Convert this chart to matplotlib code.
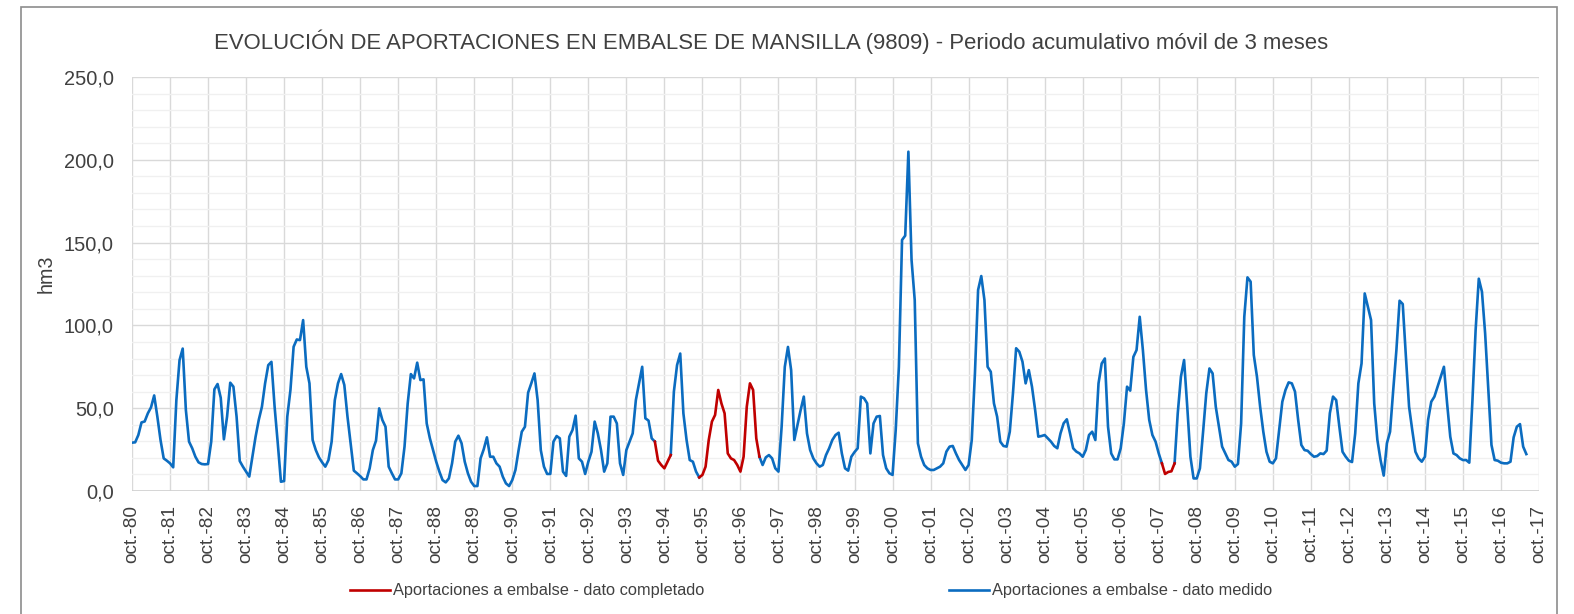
import matplotlib
matplotlib.use("Agg")
import matplotlib.pyplot as plt
import numpy as np
from matplotlib.patches import Rectangle

plt.rcParams['font.family'] = ['Liberation Sans', 'DejaVu Sans']

TITLE = "EVOLUCIÓN DE APORTACIONES EN EMBALSE DE MANSILLA (9809) - Periodo acumulativo móvil de 3 meses"
YLABEL = "hm3"
LABEL_COMPLETADO = "Aportaciones a embalse - dato completado"
LABEL_MEDIDO = "Aportaciones a embalse - dato medido"

# tick labels: one per hydrological year start (October)
years = list(range(1980, 2018))
tick_labels = ["oct.-%02d" % (y % 100) for y in years]

# monthly 3-month moving cumulative inflow (hm3), starting oct-1980
values = [
    29.2, 29.4, 33.8, 41.4, 42.0, 46.9, 50.5, 57.7, 44.9, 30.8, 19.7, 18.3,
    16.7, 14.3, 54.9, 79.0, 86.0, 48.9, 29.8, 25.8, 20.7, 17.3, 16.3, 16.1,
    16.3, 29.8, 61.4, 64.6, 56.3, 31.2, 44.9, 65.4, 63.0, 44.9, 18.1, 14.7,
    11.7, 8.7, 20.7, 32.8, 42.9, 50.9, 65.0, 76.0, 78.0, 50.9, 28.8, 5.6,
    6.0, 44.9, 61.0, 87.1, 91.5, 91.1, 103.2, 75.0, 65.0, 30.8, 24.7, 20.3,
    17.3, 14.7, 18.7, 29.8, 54.9, 65.0, 70.6, 64.0, 44.9, 28.8, 12.3, 10.7,
    9.0, 7.0, 7.0, 13.7, 24.7, 30.4, 49.9, 42.9, 38.8, 14.7, 10.7, 7.0,
    7.0, 10.7, 26.8, 52.9, 70.6, 68.0, 77.5, 67.0, 67.4, 40.8, 31.8, 24.7,
    17.7, 11.7, 6.6, 5.2, 7.6, 16.7, 29.8, 33.4, 28.8, 17.7, 10.7, 5.6,
    3.0, 3.0, 19.7, 25.2, 32.4, 20.7, 20.7, 16.7, 14.7, 8.7, 4.6, 3.0,
    6.6, 12.7, 24.7, 35.8, 38.8, 59.4, 65.0, 71.0, 54.9, 24.7, 14.7, 10.3,
    10.3, 29.8, 33.2, 31.8, 11.7, 9.1, 32.8, 36.8, 45.5, 19.7, 17.7, 10.3,
    17.7, 23.7, 41.9, 34.8, 24.7, 11.7, 16.7, 44.9, 44.9, 40.8, 16.7, 9.7,
    24.7, 29.8, 34.8, 54.9, 65.0, 75.0, 43.9, 42.5, 31.8, 29.8, 18.3, 15.7,
    13.7, 17.7, 21.7, 60.0, 76.0, 83.0, 46.9, 30.8, 18.7, 17.7, 11.7, 8.2,
    9.7, 14.7, 30.8, 41.9, 45.9, 61.0, 52.9, 46.9, 22.7, 19.7, 18.7, 15.7,
    11.7, 20.7, 50.9, 65.0, 61.0, 31.8, 20.7, 15.7, 20.3, 21.7, 19.7, 13.7,
    11.7, 38.8, 75.0, 87.0, 73.0, 30.8, 39.8, 48.9, 57.0, 34.8, 24.7, 19.7,
    16.7, 14.7, 15.7, 21.7, 25.8, 30.8, 33.8, 35.2, 22.7, 13.7, 12.3, 20.7,
    23.5, 25.8, 57.0, 56.0, 52.9, 22.7, 40.8, 44.9, 45.3, 21.7, 13.7, 10.7,
    9.7, 36.8, 75.0, 151.6, 154.2, 204.9, 139.5, 115.3, 28.8, 20.7, 15.7, 13.7,
    12.7, 12.7, 13.7, 14.7, 16.7, 23.8, 26.8, 27.2, 22.7, 18.7, 15.7, 12.7,
    15.7, 30.8, 71.0, 121.4, 129.8, 115.3, 75.0, 72.0, 52.9, 44.9, 29.8, 27.2,
    26.8, 35.8, 59.0, 86.2, 84.1, 78.1, 65.0, 73.0, 63.0, 48.9, 32.8, 33.2,
    33.8, 31.8, 29.8, 27.2, 25.8, 34.8, 40.9, 43.3, 34.8, 25.8, 23.8, 22.7,
    20.7, 24.8, 33.8, 35.8, 30.8, 65.0, 77.0, 80.0, 38.8, 22.7, 19.1, 19.1,
    25.8, 40.8, 63.0, 60.6, 81.0, 85.1, 105.2, 85.1, 61.0, 42.9, 33.8, 29.8,
    22.7, 16.7, 10.3, 11.5, 11.9, 16.7, 46.9, 69.0, 79.1, 50.9, 20.7, 7.6,
    7.6, 13.7, 35.8, 59.0, 74.0, 71.0, 50.9, 38.8, 26.8, 22.7, 18.7, 17.7,
    14.7, 16.3, 40.8, 105.2, 129.0, 126.4, 82.1, 69.0, 50.9, 35.8, 23.7, 17.7,
    16.7, 19.7, 36.8, 53.9, 61.0, 65.6, 65.0, 60.0, 42.9, 27.8, 24.7, 24.3,
    22.3, 20.7, 21.1, 22.7, 22.3, 24.4, 47.0, 57.0, 54.9, 38.8, 23.7, 20.7,
    18.3, 17.5, 34.8, 65.0, 77.0, 119.3, 111.3, 103.2, 52.9, 30.8, 18.7, 9.3,
    28.8, 35.8, 61.0, 85.1, 114.9, 112.9, 81.1, 50.9, 36.8, 23.7, 19.7, 17.7,
    20.7, 42.9, 53.9, 57.0, 63.0, 69.0, 75.0, 52.9, 32.8, 22.7, 21.7, 19.7,
    18.7, 18.7, 17.1, 54.9, 97.2, 128.2, 120.3, 95.2, 61.0, 27.8, 18.7, 18.3,
    17.1, 16.7, 16.7, 17.7, 32.4, 38.8, 40.4, 26.8, 22.3,
]

# month-index ranges (inclusive) whose data were completed (not measured)
completado_ranges = [(165, 170), (179, 198), (325, 329)]

vals = np.array(values, dtype=float)
months = np.arange(len(vals))

medido = vals.copy()
completado = np.full_like(vals, np.nan)
for a, b in completado_ranges:
    completado[a:b + 1] = vals[a:b + 1]
    medido[a + 1:b] = np.nan

BLUE = "#0B6CC0"
RED = "#C00000"
TXT = "#404040"

W, H = 1574, 614
fig = plt.figure(figsize=(W / 100, H / 100), dpi=100)
fig.patch.set_facecolor("white")

ax = fig.add_axes([132 / W, 1 - 491 / H, (1539 - 132) / W, (491 - 77) / H])

ax.plot(months, medido, color=BLUE, lw=1.9, zorder=3, solid_joinstyle="round",
        label=LABEL_MEDIDO)
ax.plot(months, completado, color=RED, lw=1.9, zorder=4, solid_joinstyle="round",
        label=LABEL_COMPLETADO)

n_years = len(years) - 1
ax.set_xlim(0, n_years * 12)
ax.set_ylim(0, 250)
ax.set_xticks(np.arange(0, n_years * 12 + 1, 12))
ax.set_xticklabels(tick_labels, rotation=90, fontsize=13.7, color=TXT)
ax.set_yticks(np.arange(0, 251, 50))
ax.set_yticks(np.arange(0, 251, 10), minor=True)
ax.set_yticklabels([("%.1f" % v).replace(".", ",") for v in np.arange(0, 251, 50)],
                   fontsize=14.4, color=TXT)
ax.tick_params(axis="both", which="both", length=0)
ax.tick_params(axis="y", pad=13)
ax.tick_params(axis="x", pad=10)

ax.grid(True, axis="x", which="major", color="#d9d9d9", lw=1.0, zorder=1)
ax.grid(True, axis="y", which="major", color="#d9d9d9", lw=1.0, zorder=1)
ax.grid(True, axis="y", which="minor", color="#f0f0f0", lw=1.0, zorder=0)
for s in ax.spines.values():
    s.set_visible(False)
ax.axhline(0, color="#d0d0d0", lw=1.2, zorder=2)

fig.text(771 / W, 1 - 42 / H, TITLE, ha="center", va="center", fontsize=15.95, color=TXT)
fig.text(46 / W, 1 - 274 / H, YLABEL, ha="center", va="center", rotation=90,
         fontsize=14.2, color=TXT)

handles, labels = ax.get_legend_handles_labels()
leg = fig.legend(handles[::-1], labels[::-1], loc="center left",
                 bbox_to_anchor=(350 / W, 1 - 591 / H), ncol=2, frameon=False,
                 fontsize=11.8, handlelength=2.45, handletextpad=0.2,
                 columnspacing=14.9, borderpad=0, borderaxespad=0)
for t in leg.get_texts():
    t.set_color(TXT)

# outer chart frame (bottom edge lies just outside the image)
fig.add_artist(Rectangle((21 / W, -5 / H), (1557 - 21) / W, (614 + 5 - 7) / H,
                         transform=fig.transFigure, fill=False,
                         edgecolor="#8c8c8c", lw=1.2))

fig.savefig("out.png", dpi=100)
